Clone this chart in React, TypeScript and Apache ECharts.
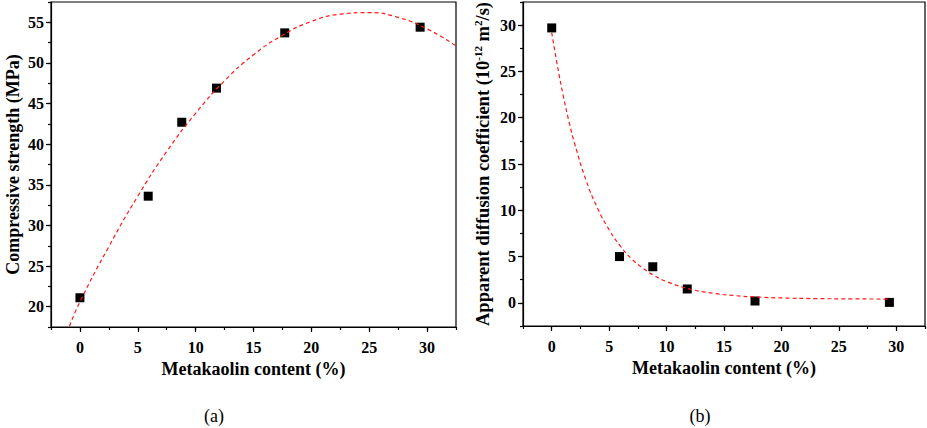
import React, { useEffect, useRef } from "react";
import * as echarts from "echarts";

// ---- data ----
const xTickValues = [0, 5, 10, 15, 20, 25, 30];
const strengthTickValues = [20, 25, 30, 35, 40, 45, 50, 55];
const diffusionTickValues = [0, 5, 10, 15, 20, 25, 30];

const metakaolin = [0, 5.9, 8.8, 11.8, 17.7, 29.4];
const strength = [21.1, 33.6, 42.7, 46.9, 53.7, 54.4];
const diffusion = [29.7, 5.0, 3.9, 1.5, 0.2, 0.05];

// fitted curves
const strengthFitX = [-0.9, 0, 2.5, 5, 7.5, 10, 12.5, 15, 17.5, 20, 22.5, 25, 27.5, 30, 32.5];
const strengthFitY = [17.6, 20.6, 27.4, 33.6, 39.1, 43.8, 47.8, 51.0, 53.4, 55.1, 56.0, 56.2, 55.6, 54.2, 52.1];
const diffusionFitX = [0, 0.5, 1, 1.5, 2, 3, 4, 5, 6, 7, 8, 9, 10, 12, 14, 16, 18, 20, 23, 26, 29.4];
const diffusionFitY = [29.2, 25.6, 22.4, 19.6, 17.2, 13.2, 10.2, 7.9, 6.1, 4.7, 3.7, 2.9, 2.3, 1.5, 1.05, 0.78, 0.62, 0.53, 0.46, 0.43, 0.41];

const xTitle = "Metakaolin content (%)";
const strengthTitle = "Compressive strength (MPa)";

const SERIF = '"Liberation Serif", "Times New Roman", serif';

function zip(xs: number[], ys: number[]) {
  return xs.map((x, i) => [x, ys[i]]);
}

function majorAxis(
  gridIndex: number,
  min: number,
  max: number,
  ticks: number[],
  name: string,
  isX: boolean,
  nameGap: number,
  rich?: any
) {
  return {
    type: "value",
    gridIndex,
    min,
    max,
    position: isX ? "bottom" : "left",
    axisLine: { show: true, onZero: false, lineStyle: { color: "#000", width: 1.2 } },
    axisTick: { show: true, customValues: ticks, length: 5, lineStyle: { color: "#000", width: 1.2 } },
    axisLabel: {
      customValues: ticks,
      margin: isX ? 12 : 7,
      fontFamily: SERIF,
      fontWeight: "bold",
      fontSize: 16,
      color: "#000",
    },
    splitLine: { show: false },
    name,
    nameLocation: "middle",
    nameGap,
    nameTextStyle: {
      fontFamily: SERIF,
      fontWeight: "bold",
      fontSize: 18,
      color: "#000",
      rich,
    },
  };
}

function minorAxis(gridIndex: number, min: number, max: number, isX: boolean) {
  return {
    type: "value",
    gridIndex,
    min,
    max,
    interval: 2.5,
    position: isX ? "bottom" : "left",
    axisLine: { show: false, onZero: false },
    axisTick: { show: true, length: 3, lineStyle: { color: "#000", width: 1.2 } },
    axisLabel: { show: false },
    splitLine: { show: false },
  };
}

export default function App() {
  const ref = useRef<HTMLDivElement>(null);

  useEffect(() => {
    document.body.style.margin = "0";
    const chart = echarts.init(ref.current!, null, { renderer: "svg" });

    const rich = {
      n: { fontFamily: SERIF, fontWeight: "bold", fontSize: 18.5, color: "#000", lineHeight: 22 },
      s: { fontFamily: SERIF, fontWeight: "bold", fontSize: 11, color: "#000", verticalAlign: "top", lineHeight: 14 },
    };
    const diffusionTitle = "{n|Apparent diffusion coefficient (10}{s|-12}{n| m}{s|2}{n|/s)}";

    const fitLine = { color: "#ff1a1a", width: 1.2, type: [4, 3] };

    const option: any = {
      animation: false,
      backgroundColor: "#fff",
      grid: [
        { left: 51, top: 2, width: 405, height: 325, show: true, borderColor: "#000", borderWidth: 1.2, backgroundColor: "transparent", outerBoundsMode: "none" },
        { left: 523, top: 2, width: 402, height: 324, show: true, borderColor: "#000", borderWidth: 1.2, backgroundColor: "transparent", outerBoundsMode: "none" },
      ],
      xAxis: [
        majorAxis(0, -2.5, 32.5, xTickValues, xTitle, true, 25),
        minorAxis(0, -2.5, 32.5, true),
        majorAxis(1, -2.5, 32.5, xTickValues, xTitle, true, 25),
        minorAxis(1, -2.5, 32.5, true),
      ],
      yAxis: [
        majorAxis(0, 17.5, 57.5, strengthTickValues, strengthTitle, false, 29),
        minorAxis(0, 17.5, 57.5, false),
        majorAxis(1, -2.5, 32.5, diffusionTickValues, diffusionTitle, false, 29, rich),
        minorAxis(1, -2.5, 32.5, false),
      ],
      series: [
        {
          type: "scatter",
          xAxisIndex: 0,
          yAxisIndex: 0,
          symbol: "rect",
          symbolSize: 9,
          itemStyle: { color: "#000", opacity: 1 },
          data: zip(metakaolin, strength),
          z: 2,
        },
        {
          type: "line",
          xAxisIndex: 0,
          yAxisIndex: 0,
          showSymbol: false,
          smooth: 0.5,
          clip: true,
          lineStyle: fitLine,
          data: zip(strengthFitX, strengthFitY),
          z: 3,
        },
        {
          type: "scatter",
          xAxisIndex: 2,
          yAxisIndex: 2,
          symbol: "rect",
          symbolSize: 9,
          itemStyle: { color: "#000", opacity: 1 },
          data: zip(metakaolin, diffusion),
          z: 2,
        },
        {
          type: "line",
          xAxisIndex: 2,
          yAxisIndex: 2,
          showSymbol: false,
          smooth: 0.5,
          clip: true,
          lineStyle: fitLine,
          data: zip(diffusionFitX, diffusionFitY),
          z: 3,
        },
      ],
      graphic: [
        {
          type: "text",
          x: 214,
          y: 416,
          style: {
            text: "(a)",
            fontFamily: SERIF,
            fontSize: 18,
            fill: "#000",
            align: "center",
            verticalAlign: "middle",
          },
        },
        {
          type: "text",
          x: 700,
          y: 416,
          style: {
            text: "(b)",
            fontFamily: SERIF,
            fontSize: 18,
            fill: "#000",
            align: "center",
            verticalAlign: "middle",
          },
        },
      ],
    };

    chart.setOption(option);
    return () => chart.dispose();
  }, []);

  return <div ref={ref} style={{ width: 927, height: 428, background: "#fff" }} />;
}
